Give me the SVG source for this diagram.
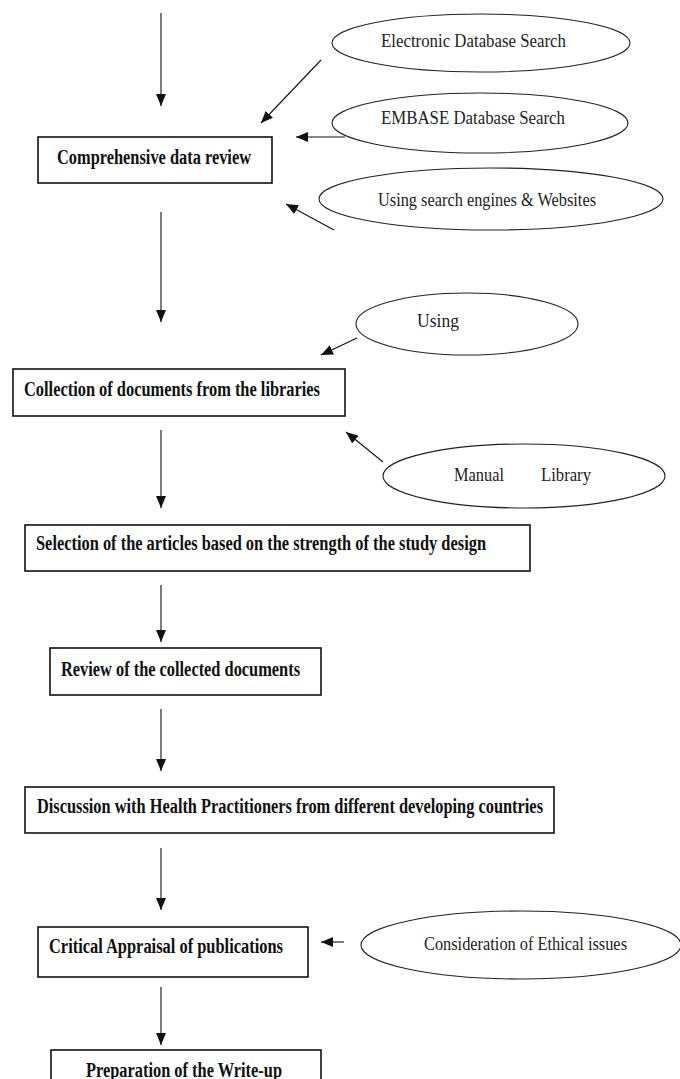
<svg xmlns="http://www.w3.org/2000/svg" width="680" height="1079" viewBox="0 0 680 1079">
<defs>
<marker id="ah" viewBox="0 0 12 10" refX="12" refY="5" markerWidth="12" markerHeight="10" orient="auto" markerUnits="userSpaceOnUse"><path d="M0,0 L12,5 L0,10 z" fill="#111"/></marker>
<style>
.box{fill:#fff;stroke:#111;stroke-width:1.6}
.ell{fill:#fff;stroke:#222;stroke-width:1.1}
.bt{font-family:"Liberation Serif","Times New Roman",serif;font-weight:bold;font-size:20px;fill:#111}
.et{font-family:"Liberation Serif","Times New Roman",serif;font-size:18px;fill:#222}
.con{stroke:#111;stroke-width:1.1;fill:none;marker-end:url(#ah)}
</style>
</defs>
<rect width="680" height="1079" fill="#fff"/>
<g id="connectors">
<line class="con" x1="161" y1="13" x2="161" y2="106"/>
<line class="con" x1="321" y1="60" x2="261" y2="123"/>
<line class="con" x1="345" y1="137" x2="296" y2="137"/>
<line class="con" x1="334" y1="230" x2="286" y2="204"/>
<line class="con" x1="161" y1="212" x2="161" y2="322"/>
<line class="con" x1="357" y1="338" x2="321" y2="355"/>
<line class="con" x1="383" y1="462" x2="346" y2="432"/>
<line class="con" x1="161" y1="430" x2="161" y2="508"/>
<line class="con" x1="161" y1="585" x2="161" y2="642"/>
<line class="con" x1="161" y1="709" x2="161" y2="771"/>
<line class="con" x1="161" y1="848" x2="161" y2="910"/>
<line class="con" x1="344" y1="942" x2="321" y2="942"/>
<line class="con" x1="161" y1="987" x2="161" y2="1045"/>
</g>
<g id="e-electronic"><ellipse class="ell" cx="481" cy="43" rx="149" ry="29"/><text class="et" x="381" y="47" textLength="185" lengthAdjust="spacingAndGlyphs">Electronic Database Search</text></g>
<g id="e-embase"><ellipse class="ell" cx="480" cy="123" rx="148" ry="30"/><text class="et" x="381" y="124" textLength="184" lengthAdjust="spacingAndGlyphs">EMBASE Database Search</text></g>
<g id="e-engines"><ellipse class="ell" cx="491" cy="199" rx="172" ry="31"/><text class="et" x="378" y="206" textLength="218" lengthAdjust="spacingAndGlyphs">Using search engines &amp; Websites</text></g>
<g id="n-comprehensive"><rect class="box" x="38" y="137" width="234" height="46"/><text class="bt" x="57" y="164" textLength="194" lengthAdjust="spacingAndGlyphs">Comprehensive data review</text></g>
<g id="e-using"><ellipse class="ell" cx="467" cy="324" rx="111" ry="31"/><text class="et" x="417" y="327" textLength="42" lengthAdjust="spacingAndGlyphs">Using</text></g>
<g id="n-collection"><rect class="box" x="13" y="369" width="332" height="47"/><text class="bt" x="24" y="396" textLength="296" lengthAdjust="spacingAndGlyphs">Collection of documents from the libraries</text></g>
<g id="e-manual"><ellipse class="ell" cx="524" cy="476" rx="141" ry="32"/><text class="et" x="454" y="481" textLength="50" lengthAdjust="spacingAndGlyphs">Manual</text><text class="et" x="541" y="481" textLength="50" lengthAdjust="spacingAndGlyphs">Library</text></g>
<g id="n-selection"><rect class="box" x="25" y="525" width="505" height="46"/><text class="bt" x="36" y="550" textLength="450" lengthAdjust="spacingAndGlyphs">Selection of the articles based on the strength of the study design</text></g>
<g id="n-review"><rect class="box" x="50" y="648" width="271" height="47"/><text class="bt" x="61" y="676" textLength="239" lengthAdjust="spacingAndGlyphs">Review of the collected documents</text></g>
<g id="n-discussion"><rect class="box" x="25" y="787" width="529" height="46"/><text class="bt" x="37" y="813" textLength="506" lengthAdjust="spacingAndGlyphs">Discussion with Health Practitioners from different developing countries</text></g>
<g id="n-critical"><rect class="box" x="38" y="927" width="270" height="50"/><text class="bt" x="49" y="953" textLength="234" lengthAdjust="spacingAndGlyphs">Critical Appraisal of publications</text></g>
<g id="e-ethical"><ellipse class="ell" cx="521" cy="945" rx="160" ry="34"/><text class="et" x="424" y="950" textLength="203" lengthAdjust="spacingAndGlyphs">Consideration of Ethical issues</text></g>
<g id="n-preparation"><rect class="box" x="51" y="1050" width="270" height="40"/><text class="bt" x="86" y="1077" textLength="196" lengthAdjust="spacingAndGlyphs">Preparation of the Write-up</text></g>
</svg>
